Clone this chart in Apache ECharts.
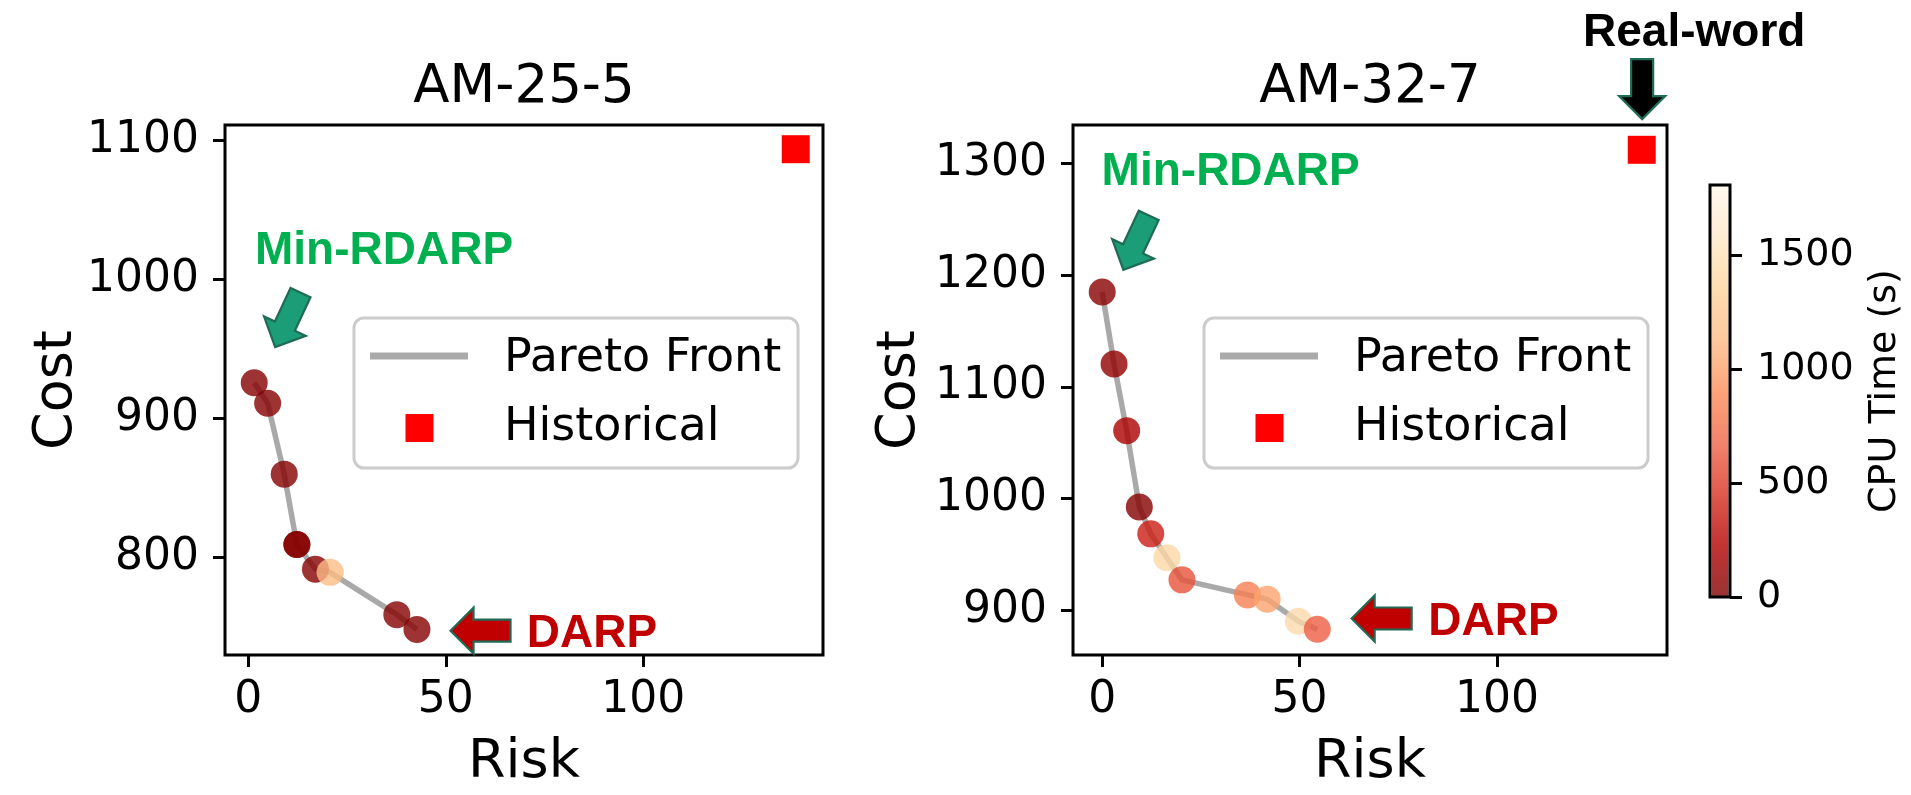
<!DOCTYPE html>
<html>
<head>
<meta charset="utf-8">
<script src="https://cdn.jsdelivr.net/npm/echarts@6/dist/echarts.min.js"></script>
<style>
  html, body { margin: 0; padding: 0; background: #ffffff; }
  #chart { width: 1911px; height: 795px; }
</style>
</head>
<body>
<div id="chart"></div>
<script>
// ---- AM-25-5: Pareto front (risk, cost, CPU time in seconds) ----
const riskA = [1.5, 4.9, 9.1, 12.3, 12.3, 17.0, 20.7, 37.6, 42.7];
const costA = [925.7, 911.0, 860.0, 809.4, 809.4, 791.7, 789.4, 759.0, 748.4];
const cpuA  = [30, 30, 30, 30, 30, 30, 1150, 30, 30];
const histA = [138.6, 1093.6];

// ---- AM-32-7: Pareto front ----
const riskB = [0.0, 3.0, 6.2, 9.4, 12.3, 16.4, 20.2, 36.8, 41.8, 49.7, 54.5];
const costB = [1185.0, 1120.6, 1060.9, 992.6, 968.5, 947.1, 927.3, 913.8, 910.0, 890.3, 883.0];
const cpuB  = [40, 80, 200, 30, 370, 1400, 600, 820, 1020, 1430, 650];
const histB = [136.7, 1312.4];

// ---- axis ticks ----
const xTicks = [0, 50, 100];
const yTicksA = [800, 900, 1000, 1100];
const yTicksB = [900, 1000, 1100, 1200, 1300];
const cbTicks = [0, 500, 1000, 1500];
const cbMax = 1810;

const titles = ['AM-25-5', 'AM-32-7'];
const legendNames = ['Pareto Front', 'Historical'];

// OrRd reversed
const orRdR = ['#7f0000', '#b30000', '#d7301f', '#ef6548', '#fc8d59', '#fdbb84', '#fdd49e', '#fee8c8', '#fff7ec'];

const FONT = 'DejaVu Sans';
const BOLD = 'Liberation Sans';
const TEXT_DY = 4; // canvas "middle" sits a little above the cap-height centre

const gridA = { left: 225, top: 125, width: 598, height: 537 };
const gridB = { left: 1073, top: 125, width: 594, height: 537 };
const gridC = { left: 1710, top: 185, width: 20, height: 412 };

function zip2(a, b) { return a.map((v, i) => [v, b[i]]); }
function zip3(a, b, c) { return a.map((v, i) => [v, b[i], c[i]]); }
const plain = v => String(v);

function tickStyle(ticks) {
  return { show: true, inside: false, length: 12, lineStyle: { color: '#000', width: 3 }, customValues: ticks };
}

function xAxisFor(gi, min, max) {
  return {
    type: 'value', gridIndex: gi, min: min, max: max,
    name: 'Risk', nameLocation: 'middle', nameGap: 81, nameMoveOverlap: false,
    nameTextStyle: { fontSize: 54, color: '#000', fontFamily: FONT },
    axisLine: { show: false, onZero: false }, splitLine: { show: false },
    axisTick: tickStyle(xTicks),
    axisLabel: { fontSize: 44, color: '#000', fontFamily: FONT, margin: 24, customValues: xTicks, formatter: plain }
  };
}
function yAxisFor(gi, min, max, ticks, gap) {
  return {
    type: 'value', gridIndex: gi, min: min, max: max,
    name: 'Cost', nameLocation: 'middle', nameGap: gap, nameMoveOverlap: false,
    nameTextStyle: { fontSize: 54, color: '#000', fontFamily: FONT },
    axisLine: { show: false, onZero: false }, splitLine: { show: false },
    axisTick: tickStyle(ticks),
    axisLabel: { fontSize: 44, color: '#000', fontFamily: FONT, margin: 26, padding: [8, 0, 0, 0], customValues: ticks, formatter: plain }
  };
}
function frameGrid(g) {
  return Object.assign({ show: true, borderColor: '#000', borderWidth: 3, backgroundColor: 'transparent', containLabel: false }, g);
}
function frontSeries(gi, risk, cost, cpu, hist) {
  return [
    {
      type: 'line', name: legendNames[0], xAxisIndex: gi, yAxisIndex: gi,
      data: zip2(risk, cost), symbol: 'none', z: 2,
      lineStyle: { color: 'rgba(128,128,128,0.68)', width: 5.5 }
    },
    {
      type: 'scatter', name: 'CPU', xAxisIndex: gi, yAxisIndex: gi,
      data: zip3(risk, cost, cpu), symbol: 'circle', symbolSize: 27, z: 3,
      itemStyle: { opacity: 0.8 }
    },
    {
      type: 'scatter', name: legendNames[1], xAxisIndex: gi, yAxisIndex: gi,
      data: [hist], symbol: 'rect', symbolSize: 28, z: 3,
      itemStyle: { color: '#ff0000', opacity: 1 }
    }
  ];
}

const option = {
  animation: false,
  backgroundColor: '#ffffff',
  grid: [frameGrid(gridA), frameGrid(gridB), frameGrid(gridC)],
  xAxis: [
    xAxisFor(0, -5.9, 145.5),
    xAxisFor(1, -7.4, 143.1),
    { type: 'category', gridIndex: 2, data: [''], show: false }
  ],
  yAxis: [
    yAxisFor(0, 730, 1111, yTicksA, 141),
    yAxisFor(1, 860, 1334.6, yTicksB, 146),
    {
      type: 'value', gridIndex: 2, min: 0, max: cbMax, position: 'right',
      name: 'CPU Time (s)', nameLocation: 'middle', nameGap: 136, nameRotate: 90, nameMoveOverlap: false,
      nameTextStyle: { fontSize: 38, color: '#000', fontFamily: FONT },
      axisLine: { show: false, onZero: false }, splitLine: { show: false },
      axisTick: tickStyle(cbTicks),
      axisLabel: { fontSize: 38, color: '#000', fontFamily: FONT, margin: 27, padding: [7, 0, 0, 0], customValues: cbTicks, formatter: plain }
    }
  ],
  visualMap: {
    type: 'continuous', show: false, min: 0, max: cbMax, dimension: 2,
    seriesIndex: [1, 4], inRange: { color: orRdR }
  },
  series: [].concat(
    frontSeries(0, riskA, costA, cpuA, histA),
    frontSeries(1, riskB, costB, cpuB, histB),
    [{
      type: 'bar', xAxisIndex: 2, yAxisIndex: 2, data: [cbMax], barWidth: 17, silent: true, z: -1,
      itemStyle: {
        opacity: 0.8,
        color: new echarts.graphic.LinearGradient(0, 1, 0, 0,
          orRdR.map((c, i) => ({ offset: i / (orRdR.length - 1), color: c })))
      }
    }]
  )
};

const chart = echarts.init(document.getElementById('chart'));
chart.setOption(option);

// ---- annotations (anchored in data coordinates) ----
const annotations = [
  { grid: 0, arrow: [6.8, 951.4], angle: 115, fill: '#1b9e77' },
  { grid: 0, text: 'Min-RDARP', at: [1.7, 1023.4], color: '#00b050', align: 'left' },
  { grid: 0, arrow: [51.2, 747.5], angle: 180, fill: '#c00000' },
  { grid: 0, text: 'DARP', at: [70.5, 747.9], color: '#c00000', align: 'left' },
  { grid: 1, arrow: [5.35, 1205.0], angle: 115, fill: '#1b9e77' },
  { grid: 1, text: 'Min-RDARP', at: [-0.15, 1295.4], color: '#00b050', align: 'left' },
  { grid: 1, arrow: [63.2, 892.7], angle: 180, fill: '#c00000' },
  { grid: 1, text: 'DARP', at: [82.6, 892.6], color: '#c00000', align: 'left' },
  { grid: 1, arrow: [136.8, 1339.9], angle: 90, fill: '#000000' },
  { grid: 1, text: 'Real-word', at: [150.0, 1419.9], color: '#000000', align: 'center' }
];

function arrowPolygon(tip, angleDeg) {
  const L = 60, hl = 23, hw = 46, sw = 22;
  const t = angleDeg * Math.PI / 180;
  const ux = Math.cos(t), uy = Math.sin(t);
  const vx = -uy, vy = ux;
  const local = [[-L, -sw / 2], [-hl, -sw / 2], [-hl, -hw / 2], [0, 0], [-hl, hw / 2], [-hl, sw / 2], [-L, sw / 2]];
  return local.map(p => [tip[0] + p[0] * ux + p[1] * vx, tip[1] + p[0] * uy + p[1] * vy]);
}

const graphics = [];
annotations.forEach(a => {
  if (a.arrow) {
    const tip = chart.convertToPixel({ gridIndex: a.grid }, a.arrow);
    graphics.push({
      type: 'polygon', z: 100, silent: true,
      shape: { points: arrowPolygon(tip, a.angle) },
      style: { fill: a.fill, stroke: '#1f6b55', lineWidth: 2.2, lineJoin: 'miter' }
    });
  } else {
    const p = chart.convertToPixel({ gridIndex: a.grid }, a.at);
    graphics.push({
      type: 'text', z: 100, silent: true, x: p[0], y: p[1] + TEXT_DY,
      style: { text: a.text, fill: a.color, font: 'bold 46px "' + BOLD + '"', align: a.align, verticalAlign: 'middle' }
    });
  }
});

// ---- titles ----
[gridA, gridB].forEach((g, i) => {
  graphics.push({
    type: 'text', silent: true, x: g.left + g.width / 2, y: 84 + TEXT_DY,
    style: { text: titles[i], fill: '#000', font: '53px "' + FONT + '"', align: 'center', verticalAlign: 'middle' }
  });
});

// ---- legends ----
[{ g: gridA, x: 354 }, { g: gridB, x: 1204 }].forEach(l => {
  const bx = l.x, by = 318;
  graphics.push({
    type: 'rect', z: 50, silent: true,
    shape: { x: bx, y: by, width: 444, height: 150, r: 10 },
    style: { fill: 'rgba(255,255,255,0.8)', stroke: '#cccccc', lineWidth: 3 }
  });
  graphics.push({
    type: 'line', z: 51, silent: true,
    shape: { x1: bx + 16, y1: by + 38, x2: bx + 114, y2: by + 38 },
    style: { stroke: '#aaaaaa', lineWidth: 7 }
  });
  graphics.push({
    type: 'rect', z: 51, silent: true,
    shape: { x: bx + 51.5, y: by + 96, width: 28, height: 28 },
    style: { fill: '#ff0000' }
  });
  legendNames.forEach((n, i) => {
    graphics.push({
      type: 'text', z: 51, silent: true, x: bx + 150, y: by + (i === 0 ? 37.5 : 106) + TEXT_DY,
      style: { text: n, fill: '#000', font: '46px "' + FONT + '"', align: 'left', verticalAlign: 'middle' }
    });
  });
});

chart.setOption({ graphic: graphics });
</script>
</body>
</html>
